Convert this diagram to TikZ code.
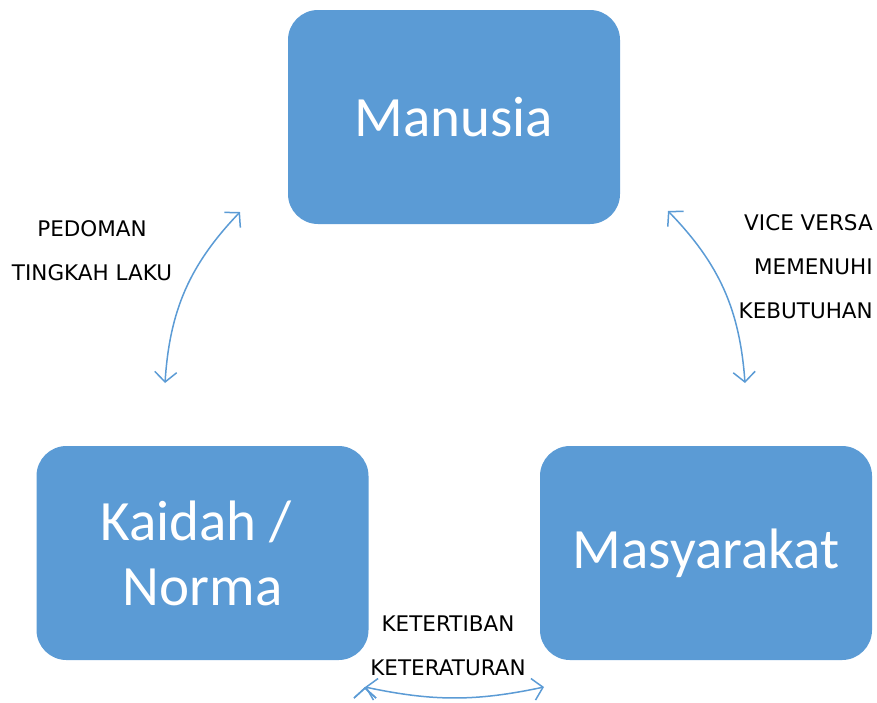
\documentclass[tikz,border=0pt]{standalone}
\usepackage{fontspec}
\setmainfont{DejaVu Sans}
\newfontfamily\boxfont{Carlito}
\usetikzlibrary{arrows.meta}
\definecolor{boxblue}{HTML}{5B9BD5}

\begin{document}
\begin{tikzpicture}[x=1pt,y=-1pt,>={Straight Barb[length=10pt,width=22pt]},semithick]
                \tikzset{box/.style={shape=rectangle,rounded corners=30pt,fill=boxblue,text=white,minimum width=332pt,minimum height=214pt,align=center,font=\boxfont\fontsize{57}{65}\selectfont},
                lbl/.style={font=\fontsize{21.5}{44}\selectfont,inner sep=0pt}}
                \useasboundingbox (0,0) rectangle (877,702);
                \node[box](Manusia)at(454, 117){Manusia};
                \node[box](Kaidah)at(202.5, 553){Kaidah /\hphantom{\ }\\Norma};
                \node[box](Masyarakat)at(706, 553){Masyarakat};
                \node[lbl,align=center](pedoman)at(92, 251){PEDOMAN\\TINGKAH LAKU};
                \node[lbl,align=right,anchor=east](vice)at(873, 267){VICE VERSA\\MEMENUHI\\KEBUTUHAN};
                \node[lbl,align=center](tertib)at(448, 646){KETERTIBAN\\KETERATURAN};
                \coordinate (mk) at (240, 212);
                \coordinate (km) at (165, 383);
                \coordinate (mm) at (668, 211);
                \coordinate (ms) at (745, 383);
                \coordinate (ks) at (365, 687);
                \coordinate (sk) at (544, 687);
                \path[<->,draw=boxblue,line width=1.5pt](mk) edge[bend right=20] (km)
                (mm) edge[bend left=20] (ms)
                (ks) edge[bend right=12] (sk);
            \end{tikzpicture}
\end{document}
